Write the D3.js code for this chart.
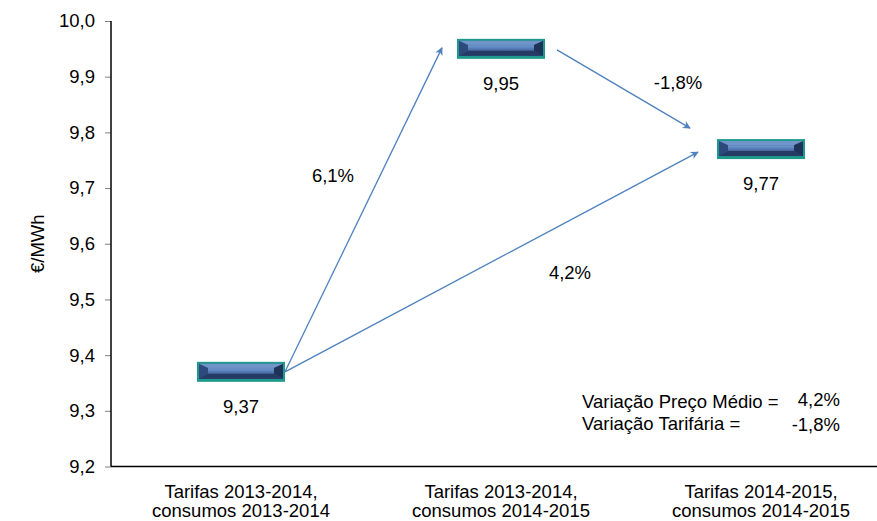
<!DOCTYPE html>
<html>
  <head>
    <meta charset="UTF-8" />
    <title>Preço médio</title>
    <script src="https://d3js.org/d3.v7.min.js"></script>
    <style>
      body {
        margin: 0;
        background-color: #fff;
        font-family: Arial, "Liberation Sans", sans-serif;
      }
      text {
        font-family: Arial, "Liberation Sans", sans-serif;
        font-size: 18.5px;
        fill: #000;
      }
    </style>
  </head>
  <body>
    <div id="chart"></div>
    <script>
      const categories = [
        ["Tarifas 2013-2014,", "consumos 2013-2014"],
        ["Tarifas 2013-2014,", "consumos 2014-2015"],
        ["Tarifas 2014-2015,", "consumos 2014-2015"],
      ];
      const values = [9.37, 9.95, 9.77];
      const valueLabels = ["9,37", "9,95", "9,77"];
      const yTicks = [9.2, 9.3, 9.4, 9.5, 9.6, 9.7, 9.8, 9.9, 10.0];
      // arrows: from index -> to index, with label
      const arrows = [
        { from: 0, to: 1, label: "6,1%" },
        { from: 0, to: 2, label: "4,2%" },
        { from: 1, to: 2, label: "-1,8%" },
      ];
      const summary = [
        ["Variação Preço Médio =", "4,2%"],
        ["Variação Tarifária =", "-1,8%"],
      ];

      const width = 877;
      const height = 521;
      const margin = { top: 21, left: 111, bottom: 55 };

      const svg = d3
        .select("#chart")
        .append("svg")
        .attr("width", width)
        .attr("height", height);

      const x = d3
        .scaleBand()
        .domain(d3.range(categories.length))
        .range([margin.left, margin.left + 780]);

      const y = d3
        .scaleLinear()
        .domain([9.2, 10.0])
        .range([height - margin.bottom + 0.5, margin.top]);

      // gradient for box
      const defs = svg.append("defs");
      const grad = defs
        .append("linearGradient")
        .attr("id", "boxGrad")
        .attr("x1", 0)
        .attr("y1", 0)
        .attr("x2", 0)
        .attr("y2", 1);
      grad.append("stop").attr("offset", "0%").attr("stop-color", "#3a5a8e");
      grad.append("stop").attr("offset", "35%").attr("stop-color", "#6a93cc");
      grad.append("stop").attr("offset", "60%").attr("stop-color", "#4a6fa8");
      grad.append("stop").attr("offset", "100%").attr("stop-color", "#2c4576");

      defs
        .append("marker")
        .attr("id", "arrowHead")
        .attr("viewBox", "0 0 10 10")
        .attr("refX", 9)
        .attr("refY", 5)
        .attr("markerWidth", 10)
        .attr("markerHeight", 8)
        .attr("markerUnits", "userSpaceOnUse")
        .attr("orient", "auto")
        .append("path")
        .attr("d", "M0,0 L10,5 L0,10 L3,5 Z")
        .attr("fill", "#4f81bd");

      // y axis
      const yAxis = svg
        .append("g")
        .attr("transform", `translate(${margin.left},0)`)
        .call(
          d3
            .axisLeft(y)
            .tickValues(yTicks)
            .tickSize(6)
            .tickPadding(10)
            .tickFormat((d) => d3.format(".1f")(d).replace(".", ","))
        );
      yAxis.select(".domain").remove();
      yAxis.selectAll(".tick line").attr("stroke", "#808080");
      yAxis
        .selectAll(".tick text")
        .style("font-size", "18.5px")
        .attr("fill", "#000");

      svg
        .append("line")
        .attr("x1", margin.left)
        .attr("x2", margin.left)
        .attr("y1", y(10.0))
        .attr("y2", y(9.2))
        .attr("stroke", "#000")
        .attr("stroke-width", 1.5);
      svg
        .append("line")
        .attr("x1", margin.left)
        .attr("x2", width)
        .attr("y1", y(9.2))
        .attr("y2", y(9.2))
        .attr("stroke", "#000")
        .attr("stroke-width", 1.5);

      svg
        .append("text")
        .attr("transform", `translate(44,${(y(9.2) + y(10)) / 2}) rotate(-90)`)
        .attr("text-anchor", "middle")
        .text("€/MWh");

      // x labels
      const xl = svg
        .append("g")
        .selectAll("text")
        .data(categories)
        .enter()
        .append("text")
        .attr("text-anchor", "middle")
        .attr("x", (d, i) => x(i) + x.bandwidth() / 2)
        .attr("y", 498);
      xl.append("tspan")
        .attr("x", (d, i) => x(i) + x.bandwidth() / 2)
        .text((d) => d[0]);
      xl.append("tspan")
        .attr("x", (d, i) => x(i) + x.bandwidth() / 2)
        .attr("dy", 19)
        .text((d) => d[1]);

      // arrows
      const bw = 88;
      const bh = 20;
      const cx = (i) => x(i) + x.bandwidth() / 2;
      function arrowEnds(a) {
        if (a.from === 0 && a.to === 1)
          return [cx(0) + bw / 2, y(values[0]), cx(1) - bw / 2 - 15, y(values[1]) - 1];
        if (a.from === 0 && a.to === 2)
          return [cx(0) + bw / 2, y(values[0]), cx(2) - bw / 2 - 19, y(values[2]) + 3];
        return [cx(1) + bw / 2 + 12, y(values[1]) + 1, cx(2) - bw / 2 - 27, y(values[2]) - 21];
      }
      svg
        .append("g")
        .selectAll("line")
        .data(arrows)
        .enter()
        .append("line")
        .each(function (d) {
          const p = arrowEnds(d);
          d3.select(this)
            .attr("x1", p[0])
            .attr("y1", p[1])
            .attr("x2", p[2])
            .attr("y2", p[3]);
        })
        .attr("stroke", "#4f81bd")
        .attr("stroke-width", 1.3)
        .attr("marker-end", "url(#arrowHead)");

      const arrowLabelPos = [
        [333, 182],
        [570, 279],
        [678, 89],
      ];
      svg
        .append("g")
        .selectAll("text")
        .data(arrows)
        .enter()
        .append("text")
        .attr("text-anchor", "middle")
        .attr("x", (d, i) => arrowLabelPos[i][0])
        .attr("y", (d, i) => arrowLabelPos[i][1])
        .text((d) => d.label);

      // boxes
      const boxes = svg
        .append("g")
        .selectAll("g")
        .data(values)
        .enter()
        .append("g")
        .attr(
          "transform",
          (d, i) => `translate(${cx(i) - bw / 2},${y(d) - bh / 2})`
        );
      boxes
        .append("rect")
        .attr("width", bw)
        .attr("height", bh)
        .attr("fill", "#1e9a8c");
      boxes
        .append("rect")
        .attr("x", 2)
        .attr("y", 2)
        .attr("width", bw - 4)
        .attr("height", bh - 5)
        .attr("fill", "url(#boxGrad)");
      // bevel sides
      boxes
        .append("path")
        .attr("d", `M2,2 L11,6 L11,${bh - 8} L2,${bh - 3} Z`)
        .attr("fill", "#2e4a7c");
      boxes
        .append("path")
        .attr("d", `M${bw - 2},2 L${bw - 11},6 L${bw - 11},${bh - 8} L${bw - 2},${bh - 3} Z`)
        .attr("fill", "#1f3258");
      boxes
        .append("path")
        .attr("d", `M2,2 L${bw - 2},2 L${bw - 11},6 L11,6 Z`)
        .attr("fill", "#6f95c9");
      boxes
        .append("path")
        .attr("d", `M2,${bh - 3} L${bw - 2},${bh - 3} L${bw - 11},${bh - 8} L11,${bh - 8} Z`)
        .attr("fill", "#263b64");

      svg
        .append("g")
        .selectAll("text")
        .data(values)
        .enter()
        .append("text")
        .attr("text-anchor", "middle")
        .attr("x", (d, i) => cx(i))
        .attr("y", (d) => y(d) + 41)
        .text((d, i) => valueLabels[i]);

      // summary
      const sg = svg.append("g");
      summary.forEach((row, i) => {
        sg.append("text")
          .attr("x", 582)
          .attr("y", 408 + i * 22)
          .text(row[0]);
        sg.append("text")
          .attr("x", 840)
          .attr("y", 406 + i * 25)
          .attr("text-anchor", "end")
          .text(row[1]);
      });
    </script>
  </body>
</html>
